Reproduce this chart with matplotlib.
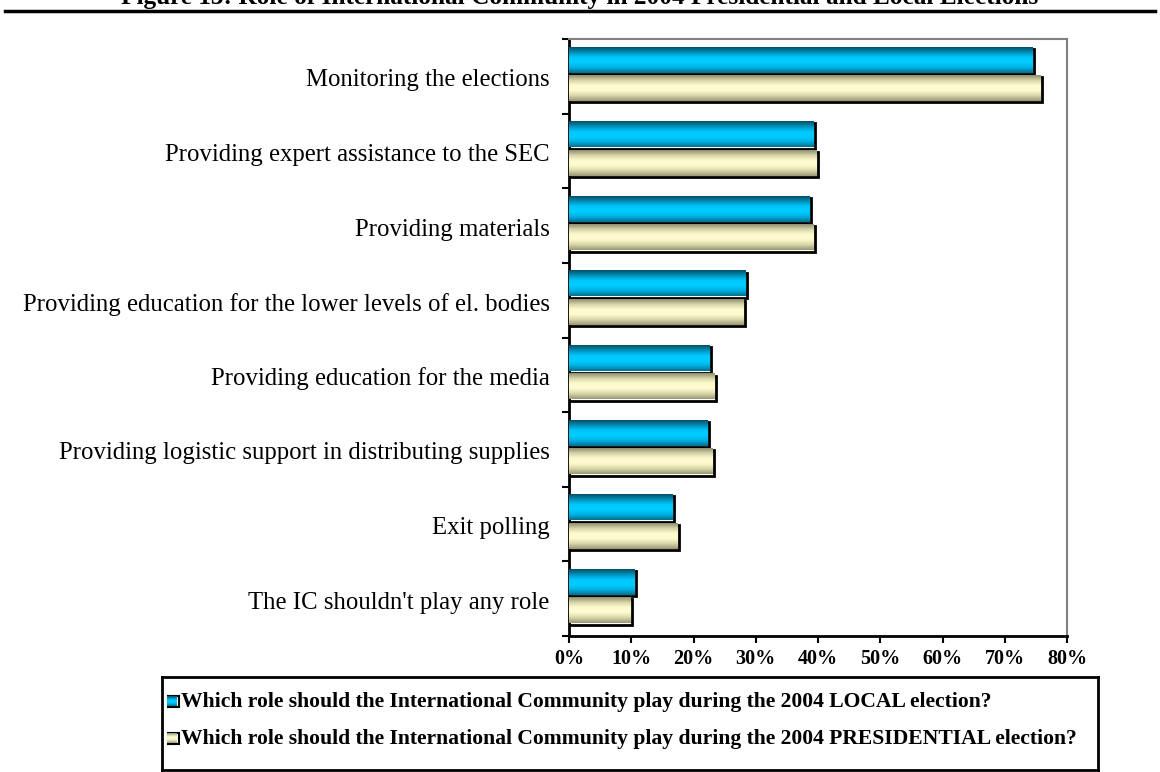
import numpy as np
import matplotlib.pyplot as plt
from matplotlib.patches import Rectangle
from matplotlib.colors import LinearSegmentedColormap

plt.rcParams['font.family'] = ['Liberation Serif', 'DejaVu Serif']

roles = ["Monitoring the elections",
         "Providing expert assistance to the SEC",
         "Providing materials",
         "Providing education for the lower levels of el. bodies",
         "Providing education for the media",
         "Providing logistic support in distributing supplies",
         "Exit polling",
         "The IC shouldn't play any role"]
local_vals = [74.5, 39.2, 38.7, 28.3, 22.5, 22.2, 16.7, 10.5]
pres_vals = [75.7, 39.7, 39.2, 28.0, 23.3, 23.0, 17.4, 9.8]
series_names = ["Which role should the International Community play during the 2004 LOCAL election?",
                "Which role should the International Community play during the 2004 PRESIDENTIAL election?"]
xticks = [0, 10, 20, 30, 40, 50, 60, 70, 80]

cyan = LinearSegmentedColormap.from_list('cy', ['#004f66', '#0090b8', '#00c8ff', '#00ccff', '#00b0e0', '#007090'])
beige = LinearSegmentedColormap.from_list('bg', ['#8f8e72', '#d8d6a8', '#fffbcf', '#fffacd', '#d8d5a8', '#9a9878'])
grad = np.linspace(0, 1, 64).reshape(-1, 1)

fig = plt.figure(figsize=(11.6, 7.72), dpi=100)
ax = fig.add_axes([569 / 1160, 1 - 636 / 772, 498 / 1160, 597 / 772])

n = len(roles)
bh = 0.34
ppx = 80 / 498.0          # data units per pixel along x
ppy = 1 / 74.6            # category units per pixel along y


def gradient_bar(val, ytop, cmap):
    # black outline shifted a little to the right/down, gradient fill on top
    ax.add_patch(Rectangle((0, ytop + 1.5 * ppy), val + 1.5 * ppx, bh, fill=False,
                           edgecolor='black', lw=2, zorder=2))
    ax.imshow(grad, cmap=cmap, aspect='auto', extent=[0, val, ytop + bh, ytop],
              interpolation='bilinear', zorder=3)


for i in range(n):
    gradient_bar(local_vals[i], i + 0.11, cyan)
    gradient_bar(pres_vals[i], i + 0.49, beige)

ax.set_xlim(0, 80)
ax.set_ylim(n, 0)
ax.set_xticks(xticks)
ax.set_xticklabels([f"{t}%" for t in xticks], fontweight='bold', fontsize=14.5)
ax.set_yticks(np.arange(n) + 0.52)
ax.set_yticklabels(roles, fontsize=17.8)
ax.set_yticks(np.arange(n + 1), minor=True)
ax.tick_params(axis='y', which='major', length=0, pad=14)
ax.tick_params(axis='y', which='minor', length=5, width=1.5, direction='out')
ax.tick_params(axis='x', length=5, width=1.5, direction='out', pad=4)
for s in ['left', 'bottom']:
    ax.spines[s].set_linewidth(2)
    ax.spines[s].set_color('black')
for s in ['top', 'right']:
    ax.spines[s].set_linewidth(1.5)
    ax.spines[s].set_color('#808080')

# title, partly clipped at the top edge, and the rule under it
fig.text(0.5, 1 - 4 / 772, "Figure 13: Role of International Community in 2004 Presidential and Local Elections",
         ha='center', va='baseline', fontsize=18.2, fontweight='bold')
fig.add_artist(plt.Line2D([5 / 1160, 1155 / 1160], [1 - 11 / 772, 1 - 11 / 772], color='black', lw=2.5))

# legend box
lax = fig.add_axes([162 / 1160, 2 / 772, 936 / 1160, 93 / 772])
lax.set_xlim(0, 936)
lax.set_ylim(93, 0)
lax.set_xticks([])
lax.set_yticks([])
for s in lax.spines.values():
    s.set_linewidth(2)
for k, (name, cmap) in enumerate(zip(series_names, [cyan, beige])):
    yc = 25 + k * 37
    lax.add_patch(Rectangle((6, yc - 6), 11, 11, fill=False, edgecolor='black', lw=1.5, zorder=2))
    lax.imshow(grad, cmap=cmap, aspect='auto', extent=[5, 15, yc + 4, yc - 6], zorder=3)
    lax.text(19, yc, name, va='center', ha='left', fontsize=15.6, fontweight='bold')

fig.savefig("out.png", dpi=100)
